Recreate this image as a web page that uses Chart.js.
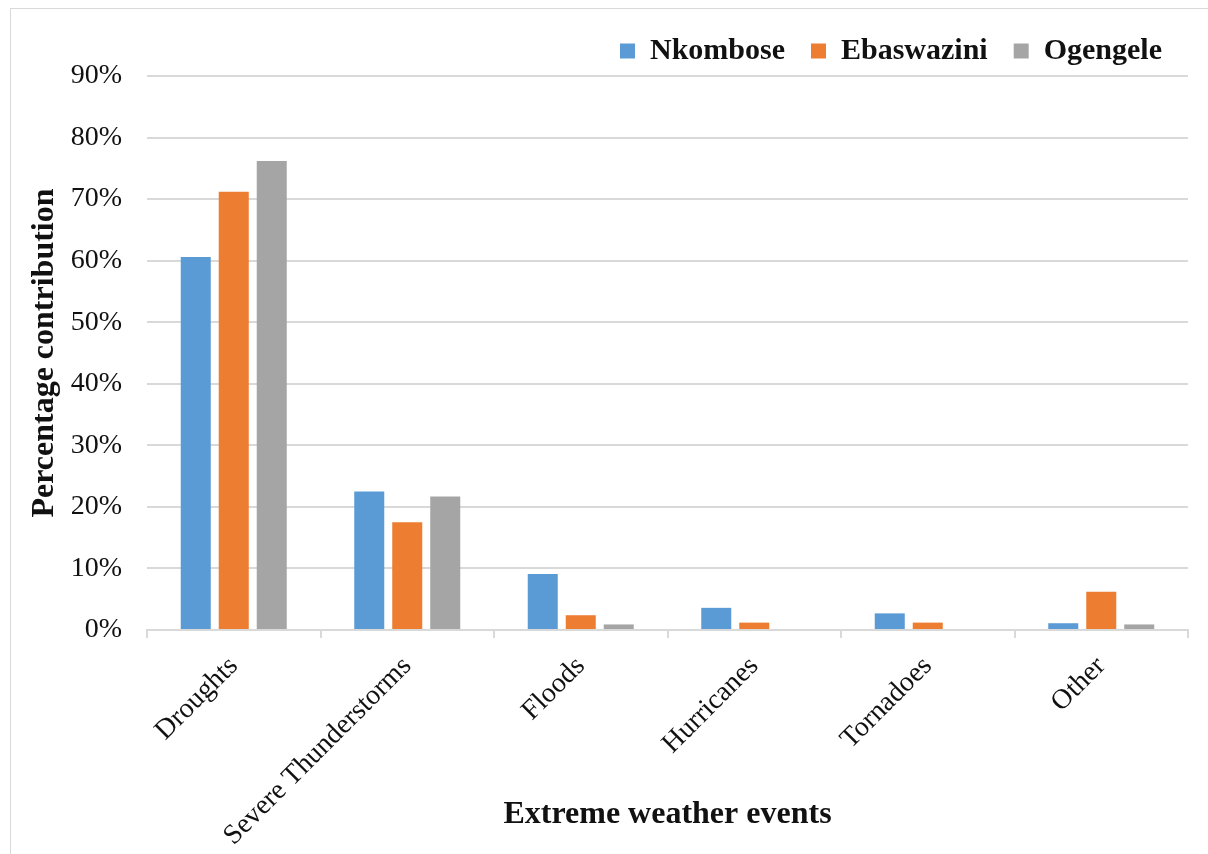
<!DOCTYPE html>
<html lang="en">
<head>
  <meta charset="UTF-8">
  <title>Extreme weather events</title>
  <script src="https://cdn.jsdelivr.net/npm/chart.js"></script>
  <style>
    body {
      margin: 0;
      background: #fff;
    }
    #frame {
      position: absolute;
      left: 10px;
      top: 8px;
      width: 1210px;
      height: 850px;
      border: 1.5px solid #d9d9d9;
    }
    #wrap {
      position: absolute;
      left: 0;
      top: 0;
      width: 1208px;
      height: 854px;
    }
  </style>
</head>
<body>
  <div id="frame"></div>
  <div id="wrap">
    <canvas id="eventsChart" width="1208" height="854"></canvas>
  </div>

  <script>
    // Share of each extreme weather event, per area (%)
    const events = ['Droughts', 'Severe Thunderstorms', 'Floods', 'Hurricanes', 'Tornadoes', 'Other'];
    const nkombose = [60.6, 22.5, 9.1, 3.6, 2.7, 1.1];
    const ebaswazini = [71.2, 17.5, 2.4, 1.2, 1.2, 6.2];
    const ogengele = [76.2, 21.7, 0.9, 0, 0, 0.9];
    const yTicks = [0, 10, 20, 30, 40, 50, 60, 70, 80, 90];

    const serif = '"Liberation Serif", "DejaVu Serif", serif';
    const ink = '#111';

    const ctx = document.getElementById('eventsChart').getContext('2d');
    const eventsChart = new Chart(ctx, {
      type: 'bar',
      data: {
        labels: events,
        datasets: [
          { label: 'Nkombose', data: nkombose, backgroundColor: '#5b9bd5' },
          { label: 'Ebaswazini', data: ebaswazini, backgroundColor: '#ed7d31' },
          { label: 'Ogengele', data: ogengele, backgroundColor: '#a5a5a5' }
        ]
      },
      options: {
        responsive: false,
        animation: false,
        devicePixelRatio: 1,
        categoryPercentage: 0.657,
        barPercentage: 0.79,
        layout: {
          padding: { left: 26, right: 20, top: 10, bottom: 0 }
        },
        plugins: {
          tooltip: { enabled: false },
          legend: {
            position: 'top',
            align: 'end',
            labels: {
              color: ink,
              boxWidth: 15,
              boxHeight: 15,
              padding: 26,
              font: { family: serif, size: 30, weight: 'bold' }
            }
          }
        },
        scales: {
          x: {
            // tall enough that the long rotated label is not clipped
            afterFit: axis => {
              axis.height = 854 - 630;
            },
            grid: {
              offset: true,
              drawOnChartArea: false,
              drawTicks: true,
              tickLength: 8,
              color: '#d9d9d9',
              lineWidth: 2
            },
            border: { color: '#d9d9d9', width: 2 },
            ticks: {
              color: ink,
              minRotation: 45,
              maxRotation: 45,
              padding: 12,
              font: { family: serif, size: 28 }
            },
            title: {
              display: true,
              text: 'Extreme weather events',
              color: ink,
              padding: { top: 0, bottom: 20 },
              font: { family: serif, size: 32, weight: 'bold' }
            }
          },
          y: {
            min: 0,
            max: 90,
            afterBuildTicks: axis => {
              axis.ticks = yTicks.map(v => ({ value: v }));
            },
            afterFit: axis => {
              axis.width = 121;
            },
            grid: {
              color: '#d9d9d9',
              lineWidth: 2,
              drawTicks: false
            },
            border: { display: false },
            ticks: {
              color: ink,
              padding: 25,
              font: { family: serif, size: 28 },
              callback: v => v + '%'
            },
            title: {
              display: true,
              text: 'Percentage contribution',
              color: ink,
              padding: { top: 0, bottom: 12 },
              font: { family: serif, size: 32, weight: 'bold' }
            }
          }
        }
      }
    });
  </script>
</body>
</html>
